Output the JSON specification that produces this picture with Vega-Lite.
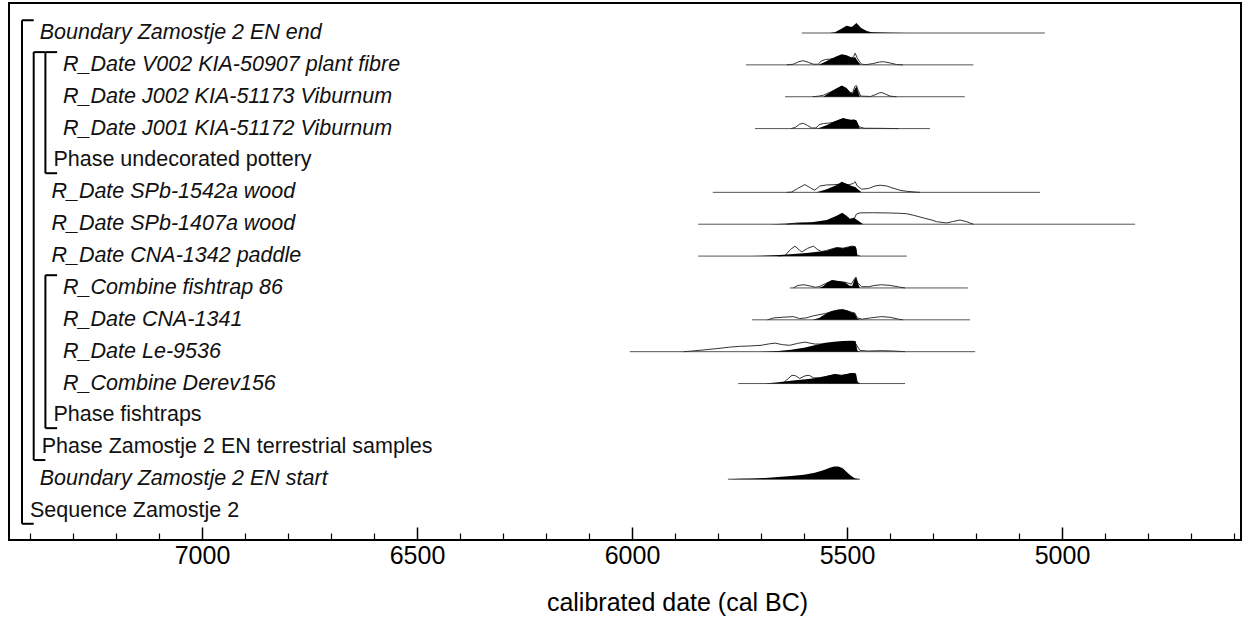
{
  "$schema": "https://vega.github.io/schema/vega-lite/v6.json",
  "width": 1232,
  "height": 537,
  "autosize": {"type": "none"},
  "padding": {"left": 9, "top": 3, "right": 14, "bottom": 77},
  "background": "white",
  "config": {"view": {"stroke": "black", "strokeWidth": 2}, "font": "Liberation Sans"},
  "datasets": {
    "items": [
      {"row": 0, "label": "Boundary Zamostje 2 EN end", "level": 1, "style": "italic"},
      {"row": 1, "label": "R_Date V002 KIA-50907 plant fibre", "level": 3, "style": "italic"},
      {"row": 2, "label": "R_Date J002 KIA-51173 Viburnum", "level": 3, "style": "italic"},
      {"row": 3, "label": "R_Date J001 KIA-51172 Viburnum", "level": 3, "style": "italic"},
      {"row": 4, "label": "Phase undecorated pottery", "level": 2, "style": "normal"},
      {"row": 5, "label": "R_Date SPb-1542a wood", "level": 2, "style": "italic"},
      {"row": 6, "label": "R_Date SPb-1407a wood", "level": 2, "style": "italic"},
      {"row": 7, "label": "R_Date CNA-1342 paddle", "level": 2, "style": "italic"},
      {"row": 8, "label": "R_Combine fishtrap 86", "level": 3, "style": "italic"},
      {"row": 9, "label": "R_Date CNA-1341", "level": 3, "style": "italic"},
      {"row": 10, "label": "R_Date Le-9536", "level": 3, "style": "italic"},
      {"row": 11, "label": "R_Combine Derev156", "level": 3, "style": "italic"},
      {"row": 12, "label": "Phase fishtraps", "level": 2, "style": "normal"},
      {"row": 13, "label": "Phase Zamostje 2 EN terrestrial samples", "level": 1, "style": "normal"},
      {"row": 14, "label": "Boundary Zamostje 2 EN start", "level": 1, "style": "italic"},
      {"row": 15, "label": "Sequence Zamostje 2", "level": 0, "style": "normal"}
    ],
    "brackets": [
      {"name": "Sequence Zamostje 2", "level": 0, "first": 0, "last": 15},
      {"name": "Phase Zamostje 2 EN terrestrial samples", "level": 1, "first": 1, "last": 13},
      {"name": "Phase undecorated pottery", "level": 2, "first": 1, "last": 4},
      {"name": "Phase fishtraps", "level": 2, "first": 8, "last": 12}
    ],
    "ranges": [
      {"row": 0, "from": 5605, "to": 5040},
      {"row": 1, "from": 5735, "to": 5206},
      {"row": 2, "from": 5644, "to": 5226},
      {"row": 3, "from": 5714, "to": 5307},
      {"row": 5, "from": 5812, "to": 5051},
      {"row": 6, "from": 5846, "to": 4830},
      {"row": 7, "from": 5846, "to": 5361},
      {"row": 8, "from": 5633, "to": 5219},
      {"row": 9, "from": 5721, "to": 5214},
      {"row": 10, "from": 6005, "to": 5202},
      {"row": 11, "from": 5753, "to": 5365},
      {"row": 14, "from": 5777, "to": 5470}
    ],
    "post": [
      {"row": 0, "year": 5540, "dens": 0}, {"row": 0, "year": 5528, "dens": 0.05}, {"row": 0, "year": 5515, "dens": 0.3}, {"row": 0, "year": 5501, "dens": 0.56}, {"row": 0, "year": 5489, "dens": 0.48}, {"row": 0, "year": 5478, "dens": 0.78}, {"row": 0, "year": 5467, "dens": 0.4}, {"row": 0, "year": 5454, "dens": 0.15}, {"row": 0, "year": 5443, "dens": 0.05}, {"row": 0, "year": 5400, "dens": 0.02}, {"row": 0, "year": 5361, "dens": 0},
      {"row": 1, "year": 5567, "dens": 0}, {"row": 1, "year": 5555, "dens": 0.17}, {"row": 1, "year": 5540, "dens": 0.42}, {"row": 1, "year": 5524, "dens": 0.67}, {"row": 1, "year": 5512, "dens": 0.83}, {"row": 1, "year": 5501, "dens": 0.75}, {"row": 1, "year": 5489, "dens": 0.58}, {"row": 1, "year": 5481, "dens": 0.6}, {"row": 1, "year": 5474, "dens": 0.25}, {"row": 1, "year": 5468, "dens": 0},
      {"row": 2, "year": 5555, "dens": 0}, {"row": 2, "year": 5540, "dens": 0.33}, {"row": 2, "year": 5524, "dens": 0.67}, {"row": 2, "year": 5512, "dens": 0.89}, {"row": 2, "year": 5501, "dens": 0.67}, {"row": 2, "year": 5493, "dens": 0.33}, {"row": 2, "year": 5487, "dens": 0.25}, {"row": 2, "year": 5482, "dens": 0.6}, {"row": 2, "year": 5478, "dens": 0.8}, {"row": 2, "year": 5474, "dens": 0.4}, {"row": 2, "year": 5470, "dens": 0},
      {"row": 3, "year": 5570, "dens": 0}, {"row": 3, "year": 5560, "dens": 0.1}, {"row": 3, "year": 5545, "dens": 0.3}, {"row": 3, "year": 5530, "dens": 0.55}, {"row": 3, "year": 5520, "dens": 0.7}, {"row": 3, "year": 5509, "dens": 0.83}, {"row": 3, "year": 5500, "dens": 0.75}, {"row": 3, "year": 5490, "dens": 0.7}, {"row": 3, "year": 5484, "dens": 0.72}, {"row": 3, "year": 5478, "dens": 0.65}, {"row": 3, "year": 5474, "dens": 0.3}, {"row": 3, "year": 5470, "dens": 0},
      {"row": 5, "year": 5571, "dens": 0}, {"row": 5, "year": 5547, "dens": 0.25}, {"row": 5, "year": 5524, "dens": 0.58}, {"row": 5, "year": 5512, "dens": 0.83}, {"row": 5, "year": 5501, "dens": 0.67}, {"row": 5, "year": 5489, "dens": 0.5}, {"row": 5, "year": 5481, "dens": 0.42}, {"row": 5, "year": 5466, "dens": 0},
      {"row": 6, "year": 5680, "dens": 0}, {"row": 6, "year": 5617, "dens": 0.08}, {"row": 6, "year": 5578, "dens": 0.17}, {"row": 6, "year": 5547, "dens": 0.33}, {"row": 6, "year": 5524, "dens": 0.67}, {"row": 6, "year": 5511, "dens": 0.89}, {"row": 6, "year": 5501, "dens": 0.67}, {"row": 6, "year": 5493, "dens": 0.42}, {"row": 6, "year": 5484, "dens": 0.5}, {"row": 6, "year": 5462, "dens": 0},
      {"row": 7, "year": 5722, "dens": 0}, {"row": 7, "year": 5656, "dens": 0.08}, {"row": 7, "year": 5594, "dens": 0.25}, {"row": 7, "year": 5547, "dens": 0.42}, {"row": 7, "year": 5524, "dens": 0.67}, {"row": 7, "year": 5509, "dens": 0.61}, {"row": 7, "year": 5495, "dens": 0.72}, {"row": 7, "year": 5489, "dens": 0.78}, {"row": 7, "year": 5481, "dens": 0.75}, {"row": 7, "year": 5478, "dens": 0.6}, {"row": 7, "year": 5476, "dens": 0},
      {"row": 8, "year": 5565, "dens": 0}, {"row": 8, "year": 5555, "dens": 0.15}, {"row": 8, "year": 5545, "dens": 0.45}, {"row": 8, "year": 5535, "dens": 0.62}, {"row": 8, "year": 5520, "dens": 0.55}, {"row": 8, "year": 5505, "dens": 0.45}, {"row": 8, "year": 5495, "dens": 0.2}, {"row": 8, "year": 5488, "dens": 0.15}, {"row": 8, "year": 5482, "dens": 0.7}, {"row": 8, "year": 5479, "dens": 0.8}, {"row": 8, "year": 5475, "dens": 0.4}, {"row": 8, "year": 5470, "dens": 0},
      {"row": 9, "year": 5580, "dens": 0}, {"row": 9, "year": 5565, "dens": 0.15}, {"row": 9, "year": 5550, "dens": 0.45}, {"row": 9, "year": 5535, "dens": 0.7}, {"row": 9, "year": 5520, "dens": 0.8}, {"row": 9, "year": 5510, "dens": 0.83}, {"row": 9, "year": 5500, "dens": 0.75}, {"row": 9, "year": 5490, "dens": 0.6}, {"row": 9, "year": 5482, "dens": 0.5}, {"row": 9, "year": 5476, "dens": 0.1}, {"row": 9, "year": 5470, "dens": 0},
      {"row": 10, "year": 5700, "dens": 0}, {"row": 10, "year": 5660, "dens": 0.05}, {"row": 10, "year": 5630, "dens": 0.15}, {"row": 10, "year": 5600, "dens": 0.3}, {"row": 10, "year": 5575, "dens": 0.5}, {"row": 10, "year": 5550, "dens": 0.7}, {"row": 10, "year": 5530, "dens": 0.78}, {"row": 10, "year": 5510, "dens": 0.83}, {"row": 10, "year": 5490, "dens": 0.85}, {"row": 10, "year": 5480, "dens": 0.83}, {"row": 10, "year": 5476, "dens": 0.1}, {"row": 10, "year": 5470, "dens": 0},
      {"row": 11, "year": 5690, "dens": 0}, {"row": 11, "year": 5660, "dens": 0.1}, {"row": 11, "year": 5620, "dens": 0.25}, {"row": 11, "year": 5590, "dens": 0.35}, {"row": 11, "year": 5560, "dens": 0.5}, {"row": 11, "year": 5540, "dens": 0.65}, {"row": 11, "year": 5528, "dens": 0.75}, {"row": 11, "year": 5515, "dens": 0.65}, {"row": 11, "year": 5500, "dens": 0.75}, {"row": 11, "year": 5490, "dens": 0.83}, {"row": 11, "year": 5480, "dens": 0.8}, {"row": 11, "year": 5476, "dens": 0.1}, {"row": 11, "year": 5470, "dens": 0},
      {"row": 14, "year": 5777, "dens": 0}, {"row": 14, "year": 5750, "dens": 0.03}, {"row": 14, "year": 5720, "dens": 0.06}, {"row": 14, "year": 5690, "dens": 0.1}, {"row": 14, "year": 5660, "dens": 0.16}, {"row": 14, "year": 5630, "dens": 0.24}, {"row": 14, "year": 5600, "dens": 0.35}, {"row": 14, "year": 5575, "dens": 0.5}, {"row": 14, "year": 5555, "dens": 0.7}, {"row": 14, "year": 5540, "dens": 0.9}, {"row": 14, "year": 5530, "dens": 1.0}, {"row": 14, "year": 5520, "dens": 1.0}, {"row": 14, "year": 5510, "dens": 0.85}, {"row": 14, "year": 5500, "dens": 0.55}, {"row": 14, "year": 5490, "dens": 0.25}, {"row": 14, "year": 5482, "dens": 0.08}, {"row": 14, "year": 5470, "dens": 0}
    ],
    "like": [
      {"row": 1, "year": 5640, "dens": 0}, {"row": 1, "year": 5625, "dens": 0.05}, {"row": 1, "year": 5612, "dens": 0.25}, {"row": 1, "year": 5602, "dens": 0.33}, {"row": 1, "year": 5590, "dens": 0.2}, {"row": 1, "year": 5578, "dens": 0.05}, {"row": 1, "year": 5567, "dens": 0.05}, {"row": 1, "year": 5560, "dens": 0.3}, {"row": 1, "year": 5550, "dens": 0.42}, {"row": 1, "year": 5540, "dens": 0.45}, {"row": 1, "year": 5530, "dens": 0.5}, {"row": 1, "year": 5520, "dens": 0.58}, {"row": 1, "year": 5512, "dens": 0.62}, {"row": 1, "year": 5500, "dens": 0.55}, {"row": 1, "year": 5490, "dens": 0.5}, {"row": 1, "year": 5484, "dens": 0.7}, {"row": 1, "year": 5481, "dens": 0.92}, {"row": 1, "year": 5477, "dens": 0.6}, {"row": 1, "year": 5472, "dens": 0.3}, {"row": 1, "year": 5466, "dens": 0.05}, {"row": 1, "year": 5455, "dens": 0.02}, {"row": 1, "year": 5440, "dens": 0.1}, {"row": 1, "year": 5425, "dens": 0.22}, {"row": 1, "year": 5415, "dens": 0.25}, {"row": 1, "year": 5400, "dens": 0.15}, {"row": 1, "year": 5385, "dens": 0.03}, {"row": 1, "year": 5370, "dens": 0},
      {"row": 2, "year": 5580, "dens": 0}, {"row": 2, "year": 5565, "dens": 0.05}, {"row": 2, "year": 5555, "dens": 0.12}, {"row": 2, "year": 5540, "dens": 0.35}, {"row": 2, "year": 5524, "dens": 0.6}, {"row": 2, "year": 5512, "dens": 0.8}, {"row": 2, "year": 5501, "dens": 0.65}, {"row": 2, "year": 5493, "dens": 0.35}, {"row": 2, "year": 5487, "dens": 0.3}, {"row": 2, "year": 5482, "dens": 0.8}, {"row": 2, "year": 5478, "dens": 0.88}, {"row": 2, "year": 5474, "dens": 0.5}, {"row": 2, "year": 5468, "dens": 0.05}, {"row": 2, "year": 5445, "dens": 0.02}, {"row": 2, "year": 5435, "dens": 0.15}, {"row": 2, "year": 5425, "dens": 0.3}, {"row": 2, "year": 5419, "dens": 0.33}, {"row": 2, "year": 5410, "dens": 0.2}, {"row": 2, "year": 5400, "dens": 0.05}, {"row": 2, "year": 5385, "dens": 0},
      {"row": 3, "year": 5630, "dens": 0}, {"row": 3, "year": 5620, "dens": 0.1}, {"row": 3, "year": 5610, "dens": 0.35}, {"row": 3, "year": 5602, "dens": 0.42}, {"row": 3, "year": 5592, "dens": 0.25}, {"row": 3, "year": 5582, "dens": 0.05}, {"row": 3, "year": 5572, "dens": 0.05}, {"row": 3, "year": 5565, "dens": 0.3}, {"row": 3, "year": 5555, "dens": 0.4}, {"row": 3, "year": 5545, "dens": 0.42}, {"row": 3, "year": 5530, "dens": 0.5}, {"row": 3, "year": 5520, "dens": 0.6}, {"row": 3, "year": 5509, "dens": 0.65}, {"row": 3, "year": 5495, "dens": 0.6}, {"row": 3, "year": 5484, "dens": 0.65}, {"row": 3, "year": 5478, "dens": 0.55}, {"row": 3, "year": 5472, "dens": 0.15}, {"row": 3, "year": 5460, "dens": 0.03}, {"row": 3, "year": 5420, "dens": 0.02}, {"row": 3, "year": 5380, "dens": 0},
      {"row": 5, "year": 5640, "dens": 0}, {"row": 5, "year": 5629, "dens": 0.02}, {"row": 5, "year": 5615, "dens": 0.3}, {"row": 5, "year": 5598, "dens": 0.61}, {"row": 5, "year": 5585, "dens": 0.35}, {"row": 5, "year": 5575, "dens": 0.17}, {"row": 5, "year": 5563, "dens": 0.5}, {"row": 5, "year": 5547, "dens": 0.58}, {"row": 5, "year": 5530, "dens": 0.6}, {"row": 5, "year": 5512, "dens": 0.65}, {"row": 5, "year": 5495, "dens": 0.6}, {"row": 5, "year": 5485, "dens": 0.7}, {"row": 5, "year": 5481, "dens": 0.83}, {"row": 5, "year": 5476, "dens": 0.5}, {"row": 5, "year": 5466, "dens": 0.25}, {"row": 5, "year": 5450, "dens": 0.3}, {"row": 5, "year": 5435, "dens": 0.5}, {"row": 5, "year": 5423, "dens": 0.56}, {"row": 5, "year": 5408, "dens": 0.5}, {"row": 5, "year": 5393, "dens": 0.33}, {"row": 5, "year": 5375, "dens": 0.15}, {"row": 5, "year": 5361, "dens": 0.08}, {"row": 5, "year": 5340, "dens": 0.02}, {"row": 5, "year": 5330, "dens": 0},
      {"row": 6, "year": 5640, "dens": 0}, {"row": 6, "year": 5615, "dens": 0.1}, {"row": 6, "year": 5600, "dens": 0.1}, {"row": 6, "year": 5580, "dens": 0.05}, {"row": 6, "year": 5540, "dens": 0.05}, {"row": 6, "year": 5500, "dens": 0.1}, {"row": 6, "year": 5485, "dens": 0.3}, {"row": 6, "year": 5478, "dens": 0.8}, {"row": 6, "year": 5470, "dens": 0.89}, {"row": 6, "year": 5440, "dens": 0.9}, {"row": 6, "year": 5400, "dens": 0.88}, {"row": 6, "year": 5380, "dens": 0.86}, {"row": 6, "year": 5361, "dens": 0.82}, {"row": 6, "year": 5345, "dens": 0.7}, {"row": 6, "year": 5323, "dens": 0.5}, {"row": 6, "year": 5300, "dens": 0.3}, {"row": 6, "year": 5292, "dens": 0.2}, {"row": 6, "year": 5268, "dens": 0.1}, {"row": 6, "year": 5255, "dens": 0.2}, {"row": 6, "year": 5237, "dens": 0.33}, {"row": 6, "year": 5222, "dens": 0.2}, {"row": 6, "year": 5206, "dens": 0},
      {"row": 7, "year": 5660, "dens": 0}, {"row": 7, "year": 5644, "dens": 0.05}, {"row": 7, "year": 5632, "dens": 0.5}, {"row": 7, "year": 5621, "dens": 0.78}, {"row": 7, "year": 5610, "dens": 0.45}, {"row": 7, "year": 5605, "dens": 0.33}, {"row": 7, "year": 5592, "dens": 0.6}, {"row": 7, "year": 5578, "dens": 0.78}, {"row": 7, "year": 5568, "dens": 0.5}, {"row": 7, "year": 5559, "dens": 0.35}, {"row": 7, "year": 5547, "dens": 0.45}, {"row": 7, "year": 5524, "dens": 0.67}, {"row": 7, "year": 5509, "dens": 0.62}, {"row": 7, "year": 5489, "dens": 0.78}, {"row": 7, "year": 5481, "dens": 0.75}, {"row": 7, "year": 5477, "dens": 0.1}, {"row": 7, "year": 5470, "dens": 0},
      {"row": 8, "year": 5625, "dens": 0}, {"row": 8, "year": 5614, "dens": 0.2}, {"row": 8, "year": 5600, "dens": 0.25}, {"row": 8, "year": 5585, "dens": 0.15}, {"row": 8, "year": 5574, "dens": 0.05}, {"row": 8, "year": 5565, "dens": 0.1}, {"row": 8, "year": 5550, "dens": 0.35}, {"row": 8, "year": 5535, "dens": 0.55}, {"row": 8, "year": 5520, "dens": 0.5}, {"row": 8, "year": 5505, "dens": 0.45}, {"row": 8, "year": 5490, "dens": 0.3}, {"row": 8, "year": 5482, "dens": 0.75}, {"row": 8, "year": 5479, "dens": 0.85}, {"row": 8, "year": 5475, "dens": 0.4}, {"row": 8, "year": 5466, "dens": 0.1}, {"row": 8, "year": 5450, "dens": 0.1}, {"row": 8, "year": 5435, "dens": 0.2}, {"row": 8, "year": 5420, "dens": 0.25}, {"row": 8, "year": 5400, "dens": 0.2}, {"row": 8, "year": 5380, "dens": 0.08}, {"row": 8, "year": 5365, "dens": 0},
      {"row": 9, "year": 5685, "dens": 0}, {"row": 9, "year": 5670, "dens": 0.15}, {"row": 9, "year": 5650, "dens": 0.2}, {"row": 9, "year": 5625, "dens": 0.25}, {"row": 9, "year": 5610, "dens": 0.1}, {"row": 9, "year": 5595, "dens": 0.15}, {"row": 9, "year": 5580, "dens": 0.3}, {"row": 9, "year": 5565, "dens": 0.4}, {"row": 9, "year": 5550, "dens": 0.5}, {"row": 9, "year": 5535, "dens": 0.65}, {"row": 9, "year": 5520, "dens": 0.75}, {"row": 9, "year": 5510, "dens": 0.78}, {"row": 9, "year": 5500, "dens": 0.7}, {"row": 9, "year": 5490, "dens": 0.6}, {"row": 9, "year": 5482, "dens": 0.55}, {"row": 9, "year": 5476, "dens": 0.15}, {"row": 9, "year": 5465, "dens": 0.05}, {"row": 9, "year": 5445, "dens": 0.15}, {"row": 9, "year": 5420, "dens": 0.25}, {"row": 9, "year": 5400, "dens": 0.2}, {"row": 9, "year": 5380, "dens": 0.05}, {"row": 9, "year": 5370, "dens": 0},
      {"row": 10, "year": 5880, "dens": 0}, {"row": 10, "year": 5860, "dens": 0.05}, {"row": 10, "year": 5830, "dens": 0.15}, {"row": 10, "year": 5800, "dens": 0.25}, {"row": 10, "year": 5775, "dens": 0.35}, {"row": 10, "year": 5750, "dens": 0.42}, {"row": 10, "year": 5725, "dens": 0.45}, {"row": 10, "year": 5700, "dens": 0.5}, {"row": 10, "year": 5680, "dens": 0.62}, {"row": 10, "year": 5667, "dens": 0.67}, {"row": 10, "year": 5650, "dens": 0.55}, {"row": 10, "year": 5633, "dens": 0.5}, {"row": 10, "year": 5615, "dens": 0.65}, {"row": 10, "year": 5598, "dens": 0.75}, {"row": 10, "year": 5575, "dens": 0.6}, {"row": 10, "year": 5550, "dens": 0.6}, {"row": 10, "year": 5530, "dens": 0.65}, {"row": 10, "year": 5510, "dens": 0.7}, {"row": 10, "year": 5490, "dens": 0.7}, {"row": 10, "year": 5480, "dens": 0.65}, {"row": 10, "year": 5470, "dens": 0.1}, {"row": 10, "year": 5450, "dens": 0.05}, {"row": 10, "year": 5420, "dens": 0.08}, {"row": 10, "year": 5390, "dens": 0.05}, {"row": 10, "year": 5365, "dens": 0},
      {"row": 11, "year": 5650, "dens": 0}, {"row": 11, "year": 5640, "dens": 0.3}, {"row": 11, "year": 5628, "dens": 0.65}, {"row": 11, "year": 5620, "dens": 0.62}, {"row": 11, "year": 5610, "dens": 0.4}, {"row": 11, "year": 5598, "dens": 0.6}, {"row": 11, "year": 5588, "dens": 0.65}, {"row": 11, "year": 5578, "dens": 0.45}, {"row": 11, "year": 5565, "dens": 0.45}, {"row": 11, "year": 5550, "dens": 0.55}, {"row": 11, "year": 5528, "dens": 0.7}, {"row": 11, "year": 5510, "dens": 0.65}, {"row": 11, "year": 5490, "dens": 0.78}, {"row": 11, "year": 5480, "dens": 0.75}, {"row": 11, "year": 5476, "dens": 0.1}, {"row": 11, "year": 5470, "dens": 0}
    ]
  },
  "layer": [
    {
      "data": {"name": "brackets"},
      "transform": [
        {"calculate": "datum.first - 0.4", "as": "top"},
        {"calculate": "datum.last + 0.4", "as": "bottom"}
      ],
      "mark": {"type": "rule", "color": "black", "strokeWidth": 2},
      "encoding": {
        "x": {"field": "level", "type": "quantitative", "scale": {"domain": [0, 10], "range": [13, 130]}, "axis": null},
        "y": {"field": "top", "type": "quantitative", "scale": {"domain": [-0.9413, 15.909], "reverse": true, "zero": false, "nice": false}, "axis": null},
        "y2": {"field": "bottom"}
      }
    },
    {
      "data": {"name": "brackets"},
      "transform": [
        {"calculate": "datum.first - 0.4", "as": "top"},
        {"calculate": "datum.level + 1", "as": "tickEnd"}
      ],
      "mark": {"type": "rule", "color": "black", "strokeWidth": 2},
      "encoding": {
        "x": {"field": "level", "type": "quantitative", "scale": {"domain": [0, 10], "range": [13, 130]}, "axis": null},
        "x2": {"field": "tickEnd"},
        "y": {"field": "top", "type": "quantitative", "scale": {"domain": [-0.9413, 15.909], "reverse": true, "zero": false, "nice": false}, "axis": null}
      }
    },
    {
      "data": {"name": "brackets"},
      "transform": [
        {"calculate": "datum.last + 0.4", "as": "bottom"},
        {"calculate": "datum.level + 1", "as": "tickEnd"}
      ],
      "mark": {"type": "rule", "color": "black", "strokeWidth": 2},
      "encoding": {
        "x": {"field": "level", "type": "quantitative", "scale": {"domain": [0, 10], "range": [13, 130]}, "axis": null},
        "x2": {"field": "tickEnd"},
        "y": {"field": "bottom", "type": "quantitative", "scale": {"domain": [-0.9413, 15.909], "reverse": true, "zero": false, "nice": false}, "axis": null}
      }
    },
    {
      "data": {"name": "items"},
      "transform": [{"filter": "datum.style === 'italic'"}],
      "mark": {"type": "text", "align": "left", "baseline": "middle", "dx": 6, "font": "Liberation Sans", "fontSize": 21.5, "fontStyle": "italic", "color": "#111"},
      "encoding": {
        "x": {"field": "level", "type": "quantitative", "scale": {"domain": [0, 10], "range": [13, 130]}, "axis": null},
        "y": {"field": "row", "type": "quantitative", "scale": {"domain": [-0.9413, 15.909], "reverse": true, "zero": false, "nice": false}, "axis": null},
        "text": {"field": "label"}
      }
    },
    {
      "data": {"name": "items"},
      "transform": [{"filter": "datum.style === 'normal'"}],
      "mark": {"type": "text", "align": "left", "baseline": "middle", "dx": 8, "font": "Liberation Sans", "fontSize": 21.5, "color": "#111"},
      "encoding": {
        "x": {"field": "level", "type": "quantitative", "scale": {"domain": [0, 10], "range": [13, 130]}, "axis": null},
        "y": {"field": "row", "type": "quantitative", "scale": {"domain": [-0.9413, 15.909], "reverse": true, "zero": false, "nice": false}, "axis": null},
        "text": {"field": "label"}
      }
    },
    {
      "data": {"name": "ranges"},
      "mark": {"type": "rule", "color": "#555", "strokeWidth": 1},
      "encoding": {
        "x": {
          "field": "from", "type": "quantitative",
          "scale": {"domain": [4583.7, 7448.8], "reverse": true, "zero": false, "nice": false},
          "axis": {
            "orient": "bottom", "values": [7000, 6500, 6000, 5500, 5000], "format": "d",
            "tickSize": -13, "tickWidth": 1.5, "tickColor": "black", "domain": false, "grid": false,
            "labelFont": "Liberation Sans", "labelFontSize": 25, "labelColor": "black", "labelPadding": 16,
            "title": "calibrated date (cal BC)", "titleFont": "Liberation Sans", "titleFontSize": 25,
            "titleFontWeight": "normal", "titleColor": "black", "titlePadding": 22, "titleX": 668
          }
        },
        "x2": {"field": "to"},
        "y": {"field": "row", "type": "quantitative", "scale": {"domain": [-0.9413, 15.909], "reverse": true, "zero": false, "nice": false}, "axis": null}
      }
    },
    {
      "data": {"name": "like"},
      "transform": [{"calculate": "datum.row - datum.dens * 0.4", "as": "top"}],
      "mark": {"type": "line", "color": "#333", "strokeWidth": 1, "interpolate": "linear"},
      "encoding": {
        "x": {
          "field": "year", "type": "quantitative",
          "scale": {"domain": [4583.7, 7448.8], "reverse": true, "zero": false, "nice": false},
          "axis": {
            "orient": "bottom",
            "values": [7400, 7300, 7200, 7100, 6900, 6800, 6700, 6600, 6400, 6300, 6200, 6100, 5900, 5800, 5700, 5600, 5400, 5300, 5200, 5100, 4900, 4800, 4700, 4600],
            "tickSize": -7, "tickWidth": 1.2, "tickColor": "black", "domain": false, "grid": false, "labels": false, "title": null
          }
        },
        "y": {"field": "top", "type": "quantitative", "scale": {"domain": [-0.9413, 15.909], "reverse": true, "zero": false, "nice": false}, "axis": null},
        "detail": {"field": "row", "type": "nominal"}
      }
    },
    {
      "data": {"name": "post"},
      "transform": [{"calculate": "datum.row - datum.dens * 0.4", "as": "top"}],
      "mark": {"type": "area", "color": "black", "interpolate": "linear"},
      "encoding": {
        "x": {
          "field": "year", "type": "quantitative",
          "scale": {"domain": [4583.7, 7448.8], "reverse": true, "zero": false, "nice": false},
          "axis": null
        },
        "y": {"field": "top", "type": "quantitative", "stack": null, "scale": {"domain": [-0.9413, 15.909], "reverse": true, "zero": false, "nice": false}, "axis": null},
        "y2": {"field": "row"},
        "detail": {"field": "row", "type": "nominal"}
      }
    }
  ],
  "resolve": {"scale": {"x": "independent"}}
}
